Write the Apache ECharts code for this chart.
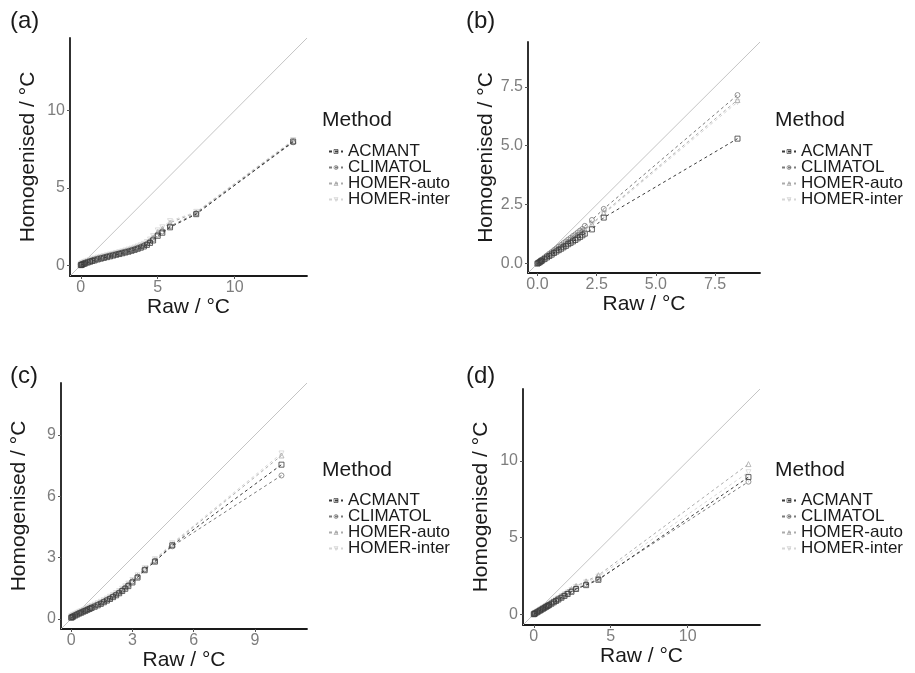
<!DOCTYPE html>
<html>
<head>
<meta charset="utf-8">
<script src="https://cdn.jsdelivr.net/npm/echarts@6/dist/echarts.min.js"></script>
<style>
  html, body { margin: 0; padding: 0; background: #ffffff; }
  #chart { width: 915px; height: 673px; }
</style>
</head>
<body>
<div id="chart"></div>
<script>
// Method names and their grey shades / marker shapes
const methods = ['ACMANT', 'CLIMATOL', 'HOMER-auto', 'HOMER-inter'];

// Panel (a)
const aRaw        = [0.00,0.05,0.10,0.20,0.30,0.45,0.60,0.75,0.90,1.10,1.30,1.50,1.70,1.90,2.10,2.30,2.50,2.70,2.90,3.10,3.30,3.50,3.70,3.90,4.10,4.30,4.50,4.70,5.00,5.30,5.80,7.50,13.80];
const aACMANT     = [0.00,0.02,0.04,0.08,0.12,0.17,0.22,0.27,0.31,0.37,0.42,0.47,0.52,0.57,0.62,0.67,0.72,0.77,0.82,0.87,0.93,0.99,1.06,1.13,1.21,1.31,1.44,1.60,1.90,2.10,2.45,3.30,8.00];
const aCLIMATOL   = [0.03,0.06,0.09,0.14,0.18,0.23,0.28,0.33,0.37,0.43,0.48,0.53,0.58,0.63,0.68,0.73,0.78,0.83,0.88,0.93,0.99,1.05,1.12,1.19,1.28,1.38,1.52,1.68,1.98,2.18,2.52,3.35,7.95];
const aHOMERauto  = [0.05,0.09,0.12,0.17,0.21,0.26,0.31,0.36,0.40,0.46,0.51,0.56,0.61,0.66,0.71,0.76,0.81,0.86,0.91,0.97,1.03,1.10,1.17,1.25,1.34,1.45,1.60,1.80,2.15,2.35,2.75,3.40,8.05];
const aHOMERinter = [0.07,0.11,0.14,0.19,0.23,0.28,0.33,0.38,0.43,0.49,0.54,0.59,0.64,0.69,0.74,0.79,0.84,0.89,0.95,1.01,1.07,1.14,1.21,1.29,1.38,1.50,1.66,1.88,2.25,2.45,2.85,3.45,8.10];

// Panel (b)
const bRaw        = [0.00,0.05,0.10,0.15,0.20,0.30,0.40,0.50,0.60,0.70,0.80,0.90,1.00,1.10,1.20,1.30,1.40,1.50,1.60,1.70,1.80,1.90,2.00,2.30,2.80,8.45];
const bACMANT     = [0.00,0.03,0.06,0.10,0.13,0.19,0.26,0.32,0.38,0.45,0.51,0.57,0.63,0.69,0.75,0.82,0.88,0.94,1.00,1.07,1.13,1.20,1.27,1.45,1.95,5.30];
const bCLIMATOL   = [0.02,0.06,0.10,0.14,0.18,0.26,0.34,0.42,0.49,0.57,0.64,0.72,0.79,0.87,0.94,1.02,1.09,1.17,1.24,1.32,1.40,1.47,1.60,1.85,2.32,7.15];
const bHOMERauto  = [0.01,0.05,0.09,0.12,0.16,0.23,0.30,0.37,0.44,0.51,0.58,0.65,0.72,0.79,0.86,0.93,1.00,1.07,1.14,1.21,1.28,1.35,1.45,1.68,2.15,6.94];
const bHOMERinter = [0.01,0.04,0.08,0.12,0.15,0.22,0.29,0.36,0.43,0.49,0.56,0.63,0.70,0.77,0.83,0.90,0.97,1.04,1.11,1.18,1.25,1.32,1.42,1.65,2.10,6.85];

// Panel (c)
const cRaw        = [0.00,0.05,0.10,0.20,0.30,0.40,0.50,0.60,0.70,0.80,0.90,1.00,1.15,1.30,1.45,1.60,1.75,1.90,2.05,2.20,2.35,2.50,2.65,2.80,3.00,3.25,3.60,4.10,4.95,10.30];
const cACMANT     = [0.05,0.08,0.11,0.16,0.21,0.26,0.30,0.35,0.39,0.44,0.48,0.53,0.59,0.66,0.73,0.81,0.89,0.97,1.06,1.15,1.25,1.36,1.47,1.60,1.78,2.02,2.38,2.80,3.60,7.55];
const cCLIMATOL   = [0.08,0.11,0.14,0.19,0.24,0.29,0.33,0.38,0.42,0.47,0.52,0.57,0.63,0.70,0.77,0.85,0.93,1.01,1.10,1.19,1.29,1.40,1.52,1.65,1.83,2.06,2.42,2.83,3.55,7.02];
const cHOMERauto  = [0.10,0.13,0.17,0.22,0.27,0.32,0.36,0.41,0.45,0.50,0.55,0.60,0.66,0.73,0.80,0.88,0.96,1.05,1.14,1.23,1.33,1.44,1.56,1.69,1.87,2.10,2.45,2.88,3.65,8.00];
const cHOMERinter = [0.12,0.15,0.19,0.24,0.29,0.34,0.38,0.43,0.48,0.53,0.58,0.63,0.69,0.76,0.83,0.91,0.99,1.08,1.17,1.26,1.36,1.47,1.59,1.72,1.90,2.13,2.48,2.92,3.70,8.10];

// Panel (d)
const dRaw        = [0.00,0.05,0.10,0.20,0.30,0.40,0.50,0.60,0.70,0.80,0.90,1.00,1.15,1.30,1.45,1.60,1.80,2.00,2.20,2.45,2.75,3.40,4.20,13.95];
const dACMANT     = [0.00,0.03,0.06,0.12,0.18,0.24,0.30,0.36,0.42,0.48,0.54,0.60,0.69,0.78,0.87,0.96,1.08,1.20,1.32,1.47,1.65,1.90,2.25,8.95];
const dCLIMATOL   = [0.02,0.05,0.08,0.14,0.20,0.26,0.32,0.38,0.44,0.50,0.56,0.62,0.71,0.80,0.89,0.98,1.10,1.22,1.35,1.50,1.68,1.95,2.30,8.65];
const dHOMERauto  = [0.04,0.08,0.11,0.17,0.24,0.30,0.37,0.43,0.50,0.56,0.63,0.69,0.79,0.89,0.99,1.09,1.22,1.35,1.48,1.65,1.85,2.15,2.55,9.80];
const dHOMERinter = [0.03,0.07,0.10,0.16,0.22,0.29,0.35,0.41,0.47,0.54,0.60,0.66,0.76,0.85,0.95,1.04,1.17,1.30,1.42,1.58,1.78,2.08,2.45,9.27];

// Tick labels per panel
const aTicks = [0, 5, 10];
const bTicks = [0, 2.5, 5, 7.5];
const cTicks = [0, 3, 6, 9];
const dTicks = [0, 5, 10];

const FONT = 'Liberation Sans, Arial, Helvetica, sans-serif';
const shades = ['#3b3b3b', '#7a7a7a', '#ababab', '#d6d6d6'];
const shapes = ['rect', 'circle', 'triangle', 'triangle'];
const rotations = [0, 0, 0, 180];

const panels = [
  { tag: '(a)', raw: aRaw, ys: [aACMANT, aCLIMATOL, aHOMERauto, aHOMERinter], ticks: aTicks, dec: 0,
    lim: [-0.7, 14.7], grid: { left: 70, top: 38, width: 237, height: 238 },
    tagPos: [10, 9], legPos: [322, 110], rows: 138 },
  { tag: '(b)', raw: bRaw, ys: [bACMANT, bCLIMATOL, bHOMERauto, bHOMERinter], ticks: bTicks, dec: 1,
    lim: [-0.4, 9.4], grid: { left: 528, top: 42, width: 232, height: 231 },
    tagPos: [466, 9], legPos: [775, 110], rows: 138 },
  { tag: '(c)', raw: cRaw, ys: [cACMANT, cCLIMATOL, cHOMERauto, cHOMERinter], ticks: cTicks, dec: 0,
    lim: [-0.5, 11.55], grid: { left: 61, top: 383, width: 246, height: 246 },
    tagPos: [10, 364], legPos: [322, 460], rows: 487 },
  { tag: '(d)', raw: dRaw, ys: [dACMANT, dCLIMATOL, dHOMERauto, dHOMERinter], ticks: dTicks, dec: 0,
    lim: [-0.7, 14.7], grid: { left: 523, top: 389, width: 237, height: 236 },
    tagPos: [466, 364], legPos: [775, 460], rows: 487 }
];

const grid = [], xAxis = [], yAxis = [], series = [], legend = [], title = [];

panels.forEach((p, i) => {
  grid.push(Object.assign({ containLabel: false }, p.grid));
  const fmt = v => Number(v).toFixed(p.dec);
  const common = {
    gridIndex: i, type: 'value', min: p.lim[0], max: p.lim[1],
    splitLine: { show: false },
    axisLine: { show: true, onZero: false, lineStyle: { color: '#1a1a1a', width: 1.8 } },
    axisTick: { show: true, length: 3, customValues: p.ticks, lineStyle: { color: '#555555', width: 1 } },
    nameLocation: 'middle',
    nameTextStyle: { fontFamily: FONT, fontSize: 21, color: '#1a1a1a' }
  };
  xAxis.push(Object.assign({}, common, {
    name: 'Raw / °C', nameGap: 21,
    axisLabel: { customValues: p.ticks, formatter: fmt, color: '#7d7d7d', fontFamily: FONT, fontSize: 16, margin: 4 }
  }));
  yAxis.push(Object.assign({}, common, {
    name: 'Homogenised / °C', nameGap: 31,
    axisLabel: { customValues: p.ticks, formatter: fmt, color: '#7d7d7d', fontFamily: FONT, fontSize: 16, margin: 5 }
  }));

  // 1:1 reference line across the panel
  series.push({
    type: 'line', xAxisIndex: i, yAxisIndex: i, silent: true, symbol: 'none',
    data: [[p.lim[0], p.lim[0]], [p.lim[1], p.lim[1]]],
    lineStyle: { color: '#c4c4c4', width: 1, type: 'solid' }, z: 1
  });

  methods.forEach((m, k) => {
    series.push({
      name: m, type: 'line', xAxisIndex: i, yAxisIndex: i,
      data: p.raw.map((x, j) => [x, p.ys[k][j]]),
      symbol: shapes[k], symbolRotate: rotations[k], symbolSize: 5,
      showAllSymbol: true,
      itemStyle: { color: 'rgba(255,255,255,0)', borderColor: shades[k], borderWidth: 0.8 },
      lineStyle: { color: shades[k], width: 1, type: [3, 3] },
      emphasis: { disabled: true },
      z: 5 - k
    });
  });

  legend.push({
    data: methods, orient: 'vertical', left: p.legPos[0] + 1, top: p.rows,
    itemWidth: 14, itemHeight: 5, itemGap: -1, selectedMode: false,
    itemStyle: { borderWidth: 0.7 },
    textStyle: { fontFamily: FONT, fontSize: 17, color: '#1a1a1a', lineHeight: 16, padding: [0, 0, 0, 0] }
  });
  title.push({
    text: 'Method', left: p.legPos[0], top: p.legPos[1], padding: 0,
    textStyle: { fontFamily: FONT, fontSize: 21, fontWeight: 'normal', color: '#1a1a1a' }
  });
  title.push({
    text: p.tag, left: p.tagPos[0], top: p.tagPos[1], padding: 0,
    textStyle: { fontFamily: FONT, fontSize: 24, fontWeight: 'normal', color: '#1a1a1a' }
  });
});

const chart = echarts.init(document.getElementById('chart'), null, { renderer: 'canvas' });
chart.setOption({
  backgroundColor: '#ffffff',
  animation: false,
  title, grid, xAxis, yAxis, series, legend
});
</script>
</body>
</html>
